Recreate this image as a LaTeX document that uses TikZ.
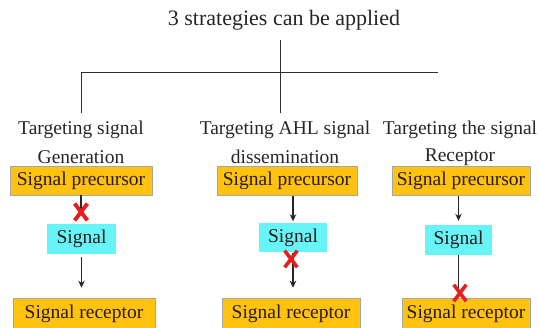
\documentclass[tikz,border=0pt]{standalone}
\usepackage{fontspec}
\setmainfont{Liberation Serif}
\usetikzlibrary{arrows.meta,shapes.misc}
\definecolor{boxorange}{HTML}{FFC20E}
\definecolor{boxcyan}{HTML}{66F4F6}
\definecolor{txt}{HTML}{2A1C1C}
\definecolor{lineclr}{HTML}{2E2E2E}
\tikzset{
  lab/.style={font=\fontsize{19.5}{26}\selectfont, text=black!85, align=center, inner sep=0pt},
  ttl/.style={font=\fontsize{22}{26}\selectfont, text=black!85, inner sep=0pt},
  obox/.style={fill=boxorange, draw=black!35, line width=0.5pt, font=\fontsize{19.5}{22}\selectfont, text=txt, inner sep=0pt, minimum height=29pt},
  cbox/.style={fill=boxcyan, draw=none, font=\fontsize{19.5}{22}\selectfont, text=txt, inner sep=0pt, minimum height=30pt},
  tree/.style={draw=lineclr, line width=1pt},
  conn/.style={draw=black!85, line width=1.2pt},
  arr/.style={conn, -{Stealth[length=7pt,width=6.5pt]}},
  redx/.style={cross out, draw={rgb,255:red,230;green,30;blue,30}, line width=3.6pt, minimum width=9pt, minimum height=13pt, inner sep=0pt}
}
\begin{document}
\begin{tikzpicture}[x=1pt,y=-1pt]
\useasboundingbox (0,0) rectangle (539,328);
\node[ttl] (title) at (284,20) {3 strategies can be applied};
\coordinate (top) at (280,40);
\coordinate (jn) at (280,73);
\coordinate (lft) at (81,73);
\coordinate (rgt) at (438,73);
\coordinate (lftdn) at (81,113);
\coordinate (middn) at (280,113);
\draw[tree] (top) -- (middn);
\draw[tree] (lftdn) -- (lft) -- (rgt);
% column labels
\node[lab] (l1a) at (81,130) {Targeting signal};
\node[lab] (l1b) at (81,157) {Generation};
\node[lab] (l2a) at (285,130) {Targeting AHL signal};
\node[lab] (l2b) at (285,157) {dissemination};
\node[lab] (l3a) at (460,130) {Targeting the signal};
\node[lab] (l3b) at (460,157) {Receptor};
% column 1
\node[obox, minimum width=142pt] (p1) at (81,180.5) {Signal precursor};
\node[cbox, minimum width=69pt] (s1) at (81.5,239) {Signal};
\node[obox, minimum width=142pt, minimum height=32pt] (r1) at (84,314) {Signal receptor};
\node[redx] (x1) at (81,212) {};
\draw[conn] (p1.south) -- (x1.center);
\node[redx] at (x1) {};
\draw[arr, shorten <=3pt, shorten >=10pt] (s1.south) -- (s1.south |- r1.north);
% column 2
\node[obox, minimum width=140pt] (p2) at (287,181) {Signal precursor};
\node[cbox, minimum width=68pt, minimum height=29pt] (s2) at (293,238) {Signal};
\node[obox, minimum width=138pt, minimum height=32pt] (r2) at (291,314) {Signal receptor};
\draw[arr, shorten >=2pt] (p2.south -| s2.north) -- (s2.north);
\draw[arr, shorten >=10pt] (s2.south) -- (s2.south |- r2.north);
\node[redx] (x2) at (291,259) {};
% column 3
\node[obox, minimum width=138pt] (p3) at (461,181) {Signal precursor};
\node[cbox, minimum width=67pt] (s3) at (458.5,240) {Signal};
\node[obox, minimum width=128pt, minimum height=32pt] (r3) at (466,314) {Signal receptor};
\draw[arr, shorten >=4pt] (p3.south -| s3.north) -- (s3.north);
\coordinate (x3c) at (460,293);
\draw[conn] (s3.south) -- (s3.south |- x3c);
\node[redx] (x3) at (x3c) {};
\end{tikzpicture}
\end{document}
